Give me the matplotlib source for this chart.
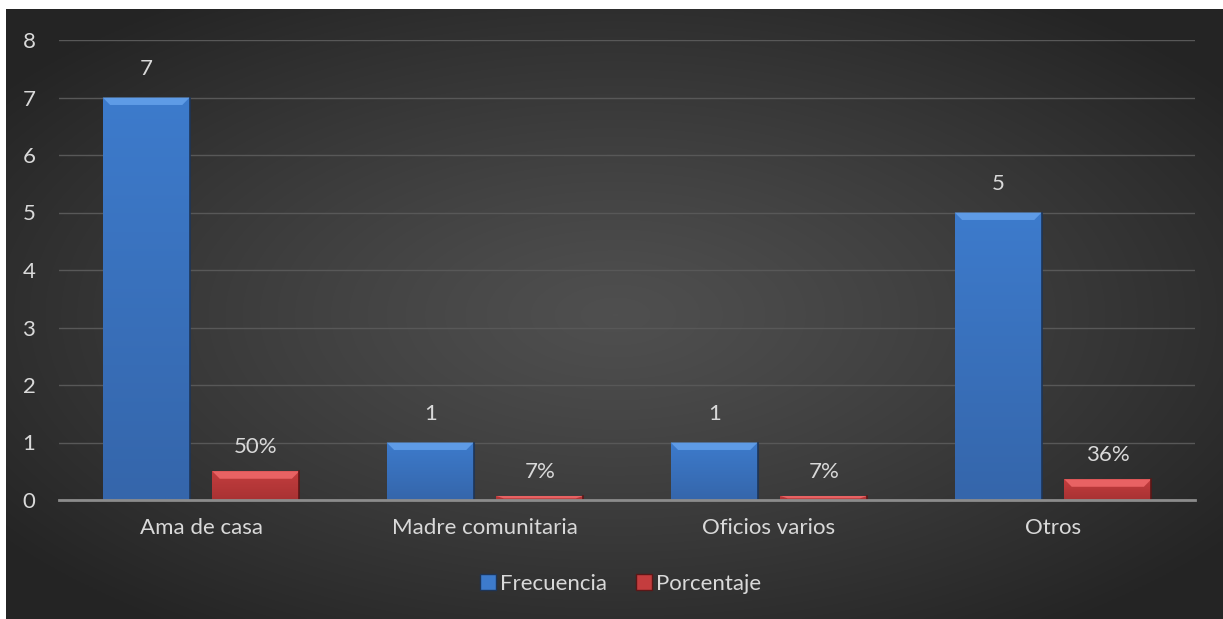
import matplotlib.pyplot as plt
import numpy as np
from matplotlib.patches import Polygon, Patch
from matplotlib.colors import to_rgb

# Ocupación de las encuestadas
categorias = ["Ama de casa", "Madre comunitaria", "Oficios varios", "Otros"]
frecuencia = [7, 1, 1, 5]
porcentaje = [0.50, 0.07, 0.07, 0.36]
series = ["Frecuencia", "Porcentaje"]
yticks = list(range(0, 9))

TEXT = "#d9d9d9"
BLUE = "#3d7bcc"
BLUE_LOW = "#3566ab"
BLUE_TOP = "#5e9be6"
BLUE_EDGE = "#1d3558"
RED = "#c43d3e"
RED_LOW = "#a83233"
RED_TOP = "#e86263"
RED_EDGE = "#5a1717"

plt.rcParams['font.family'] = ['Lato', 'DejaVu Sans']

fig = plt.figure(figsize=(12.23, 6.19), dpi=100)
fig.patch.set_facecolor("white")

# Fondo oscuro con degradado radial
bg = fig.add_axes([6 / 1223, 0, 1 - 6 / 1223, 1 - 9 / 619])
bg.set_axis_off()
h, w = 300, 600
yy, xx = np.mgrid[0:h, 0:w]
r = np.sqrt(((xx - w * 0.5) / (w * 0.62)) ** 2 + ((yy - h * 0.5) / (h * 0.62)) ** 2)
r = np.clip(r, 0, 1)
light, dark = 0.31, 0.145
val = light + (dark - light) * r ** 1.2
img = np.dstack([val, val, val])
bg.imshow(img, aspect="auto", extent=[0, 1, 0, 1], interpolation="bilinear")
bg.set_xlim(0, 1)
bg.set_ylim(0, 1)

ax = fig.add_axes([59 / 1223, 1 - 500 / 619, (1195 - 59) / 1223, (500 - 40) / 619])
ax.patch.set_alpha(0)

x = np.arange(len(categorias))
width = 0.306
off = 0.193

b1 = ax.bar(x - off, frecuencia, width, color=BLUE, zorder=3)
b2 = ax.bar(x + off, porcentaje, width, color=RED, zorder=3)

# Degradado vertical, biselado superior y borde derecho de cada barra
def bisel(bars, c_top, c_low, top_color, edge_color):
    a, b = np.array(to_rgb(c_top)), np.array(to_rgb(c_low))
    for p in bars:
        x0, y0 = p.get_x(), p.get_y()
        x1, y1 = x0 + p.get_width(), y0 + p.get_height()
        t = np.linspace(0, 1, 64)[:, None]
        grad = (a * (1 - t) + b * t)[:, None, :]
        im = ax.imshow(grad, extent=[x0, x1, y0, y1], aspect="auto", zorder=3.5,
                       interpolation="bilinear", origin="upper")
        im.set_clip_path(p)
        dy = min(0.13, p.get_height() * 0.6)
        dx = 0.026
        ax.add_patch(Polygon([(x0, y1), (x1, y1), (x1 - dx, y1 - dy), (x0 + dx, y1 - dy)],
                             closed=True, facecolor=top_color, edgecolor="none", zorder=4))
        ax.plot([x1, x1], [y0, y1], color=edge_color, lw=1.2, zorder=5)

bisel(b1, BLUE, BLUE_LOW, BLUE_TOP, BLUE_EDGE)
bisel(b2, RED, RED_LOW, RED_TOP, RED_EDGE)
ax.set_xlim(-0.5, len(categorias) - 0.5)
ax.set_ylim(0, 8)

for p, v in zip(b1, frecuencia):
    ax.annotate(f"{v}", (p.get_x() + p.get_width() / 2, p.get_height()),
                xytext=(0, 13), textcoords="offset points", ha="center", va="bottom",
                color=TEXT, fontsize=16)
for p, v in zip(b2, porcentaje):
    ax.annotate(f"{v:.0%}", (p.get_x() + p.get_width() / 2, p.get_height()),
                xytext=(0, 10), textcoords="offset points", ha="center", va="bottom",
                color=TEXT, fontsize=16)

ax.set_yticks(yticks)
ax.set_xticks(x)
ax.set_xticklabels(categorias)
ax.grid(axis="y", color="#585858", lw=1, zorder=0)
ax.set_axisbelow(True)
for s in ["top", "right", "left"]:
    ax.spines[s].set_visible(False)
ax.spines["bottom"].set_color("#8c8c8c")
ax.spines["bottom"].set_linewidth(2)
ax.spines["bottom"].set_zorder(6)
ax.tick_params(axis="both", length=0, colors=TEXT, labelsize=16)
ax.tick_params(axis="y", pad=17)
ax.tick_params(axis="x", pad=13)

handles = [Patch(facecolor=BLUE, edgecolor=BLUE_EDGE), Patch(facecolor=RED, edgecolor=RED_EDGE)]
leg = fig.legend(handles, series, loc="center", bbox_to_anchor=(621 / 1223, 1 - 584 / 619),
                 ncol=2, frameon=False, fontsize=16, handlelength=0.7, handleheight=0.7,
                 handletextpad=0.2, columnspacing=1.3, labelcolor=TEXT)

fig.savefig("out.png", dpi=100, facecolor=fig.get_facecolor())
